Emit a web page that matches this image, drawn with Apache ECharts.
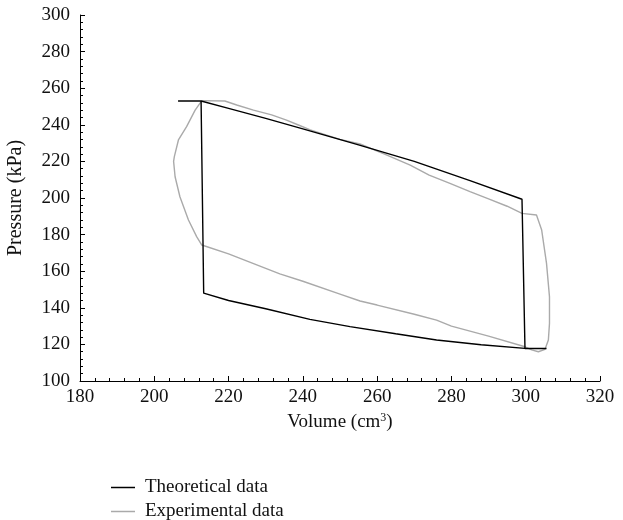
<!DOCTYPE html>
<html>
<head>
<meta charset="utf-8">
<script src="https://cdn.jsdelivr.net/npm/echarts@6/dist/echarts.min.js"></script>
<style>
  html, body { margin: 0; padding: 0; background: #fff; }
</style>
</head>
<body>
<div id="chart" style="width: 623px; height: 520px;"></div>
<script>
  // theoretical cycle (black): flat top-left, expansion, right drop, bottom-right, compression, left rise
  var theoVolume   = [206.4, 212.6, 220, 230, 240, 255, 270, 285, 299.0, 299.8, 305.6, 299.8, 288, 276, 265, 252.7, 241.9, 230, 220, 213.3, 212.6];
  var theoPressure = [253, 253, 249, 243.5, 237.8, 229, 220, 209.5, 199.3, 117.8, 117.8, 117.8, 119.8, 122.4, 125.8, 129.7, 133.7, 139.5, 144, 148, 253];

  // experimental loop (grey)
  var expVolume   = [212.8, 219, 222.2, 226.7, 231.6, 235.6, 238.8, 242, 246.4, 250, 255.4, 262, 268.9, 274, 279.6, 285, 290, 295, 299,
                     302.9, 304.3, 305.6, 306.4, 306.4, 306.1, 305.2, 303.4, 301.6, 299.8,
                     290, 280, 276, 270, 260, 255.4, 250, 240, 233.8, 220, 212.8,
                     211.4, 209.2, 206.9, 205.6, 205.2, 205.4, 206.5, 208.7, 211, 212.8];
  var expPressure = [253.2, 253, 250.8, 248, 245.4, 242.6, 239.9, 237.2, 234.4, 232, 229.5, 224, 218, 212.5, 208, 203.5, 199.5, 195.5, 191.6,
                     190.7, 182.5, 164.3, 146, 131.5, 122.4, 117.3, 116, 117, 118.7,
                     124.5, 130, 133.3, 136.5, 141.5, 143.7, 147.5, 154.5, 158.5, 169.5, 174.3,
                     178.9, 188, 200.7, 211.6, 220, 222.6, 231.7, 239, 248, 253.2];

  var xTicks = [180, 320, 20];
  var yTicks = [100, 300, 20];

  function zip(a, b) {
    var out = [];
    for (var i = 0; i < a.length; i++) out.push([a[i], b[i]]);
    return out;
  }

  var serif = '"Liberation Serif", "DejaVu Serif", serif';
  var myChart = echarts.init(document.getElementById('chart'));

  function legendRow(name, top) {
    return {
      left: 106,
      top: top,
      itemWidth: 24,
      itemHeight: 1.5,
      icon: 'rect',
      textStyle: { fontFamily: serif, fontSize: 19, color: '#111', padding: [0, 0, 0, 5] },
      data: [name]
    };
  }

  myChart.setOption({
    animation: false,
    grid: { left: 80, right: 23, top: 15, bottom: 139, outerBoundsMode: 'none', containLabel: false },
    legend: [
      legendRow('Theoretical data', 473),
      legendRow('Experimental data', 497)
    ],
    xAxis: {
      type: 'value',
      min: xTicks[0],
      max: xTicks[1],
      interval: xTicks[2],
      name: '{a|Volume (cm}{s|3}{a|)}',
      nameLocation: 'middle',
      nameGap: 30,
      nameTextStyle: {
        rich: {
          a: { fontFamily: serif, fontSize: 19, color: '#111' },
          s: { fontFamily: serif, fontSize: 12, color: '#111', verticalAlign: 'bottom', padding: [0, 0, 9, 0] }
        }
      },
      axisLine: { lineStyle: { color: '#000', width: 1 } },
      axisTick: { inside: true, length: 5, lineStyle: { color: '#000' } },
      minorTick: { show: true, splitNumber: 5, length: 3, lineStyle: { color: '#000' } },
      axisLabel: { fontFamily: serif, fontSize: 19, color: '#111', margin: 7 },
      splitLine: { show: false }
    },
    yAxis: {
      type: 'value',
      min: yTicks[0],
      max: yTicks[1],
      interval: yTicks[2],
      name: 'Pressure (kPa)',
      nameLocation: 'middle',
      nameGap: 54,
      nameTextStyle: { fontFamily: serif, fontSize: 20, color: '#111' },
      axisLine: { show: true, lineStyle: { color: '#000', width: 1 } },
      axisTick: { show: true, inside: true, length: 5, lineStyle: { color: '#000' } },
      minorTick: { show: true, splitNumber: 5, length: 3, lineStyle: { color: '#000' } },
      axisLabel: { fontFamily: serif, fontSize: 19, color: '#111', margin: 10 },
      splitLine: { show: false }
    },
    series: [
      {
        name: 'Theoretical data',
        type: 'line',
        data: zip(theoVolume, theoPressure),
        showSymbol: false,
        symbol: 'none',
        color: '#000',
        lineStyle: { color: '#000', width: 1.4 },
        z: 3
      },
      {
        name: 'Experimental data',
        type: 'line',
        data: zip(expVolume, expPressure),
        showSymbol: false,
        symbol: 'none',
        color: '#aaa',
        lineStyle: { color: '#aaa', width: 1.4 },
        z: 2
      }
    ]
  });
</script>
</body>
</html>
